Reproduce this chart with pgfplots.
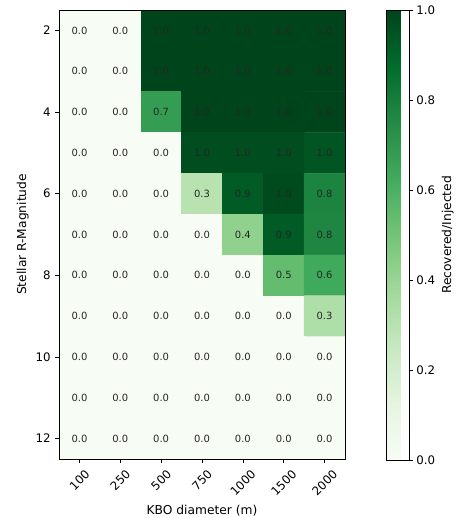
\documentclass[border=0pt]{standalone}
\usepackage{graphicx}
\usepackage{pgfplots}
\pgfplotsset{compat=1.18}
\usepackage{fontspec}
\setmainfont{DejaVu Sans}
\newcommand{\tl}{\fontsize{11.8}{14}\selectfont}
\newcommand{\lb}{\fontsize{12.3}{14}\selectfont}
\begin{document}
\begin{tikzpicture}
\path[use as bounding box] (-59bp,-59bp) rectangle (398bp,459bp);
\begin{axis}[
  at={(0,0)}, anchor=south west,
  scale only axis, width=286bp, height=449bp,
  axis on top,
  xmin=-0.5, xmax=6.5, ymin=1.5, ymax=12.5, y dir=reverse,
  xtick={0,...,6},
  xticklabels={\rotatebox{45}{100},\rotatebox{45}{250},\rotatebox{45}{500},\rotatebox{45}{750},\rotatebox{45}{1000},\rotatebox{45}{1500},\rotatebox{45}{2000}},
  xticklabel style={anchor=north, font=\tl, inner sep=1bp, yshift=-5bp},
  ytick={2,4,...,12},
  yticklabel style={font=\tl, xshift=-1bp},
  tick align=outside, tick pos=left, major tick length=3.9bp,
  every tick/.style={black, line width=0.6pt},
  axis line style={line width=0.6pt},
  xlabel={KBO diameter (m)}, ylabel={Stellar R-Magnitude},
  label style={font=\lb},
  xlabel style={yshift=-4bp},
  /pgf/number format/assume math mode=true,
  colormap={greens}{rgb255=(247,252,245) rgb255=(229,245,224) rgb255=(199,233,192) rgb255=(161,217,155) rgb255=(116,196,118) rgb255=(65,171,93) rgb255=(35,139,69) rgb255=(0,109,44) rgb255=(0,68,27)},
  point meta min=0, point meta max=1,
  colorbar,
  colorbar style={
    at={(parent axis.north east)}, anchor=north west, xshift=33bp,
    scale only axis, width=22.5bp, height=450bp,
    ytick={0,0.2,0.4,0.6,0.8,1.0},
    yticklabel style={font=\tl, /pgf/number format/fixed, /pgf/number format/precision=1, /pgf/number format/fixed zerofill, /pgf/number format/assume math mode=true},
    yticklabel pos=right, ytick pos=right, tick align=outside, major tick length=3.9bp,
    every tick/.style={black, line width=0.6pt},
    ylabel={Recovered/Injected},
    ylabel style={font=\lb, at={(rel axis cs:2.72,0.5)}, anchor=center},
    axis line style={line width=0.6pt},
  },
]
\addplot[matrix plot*, mesh/cols=7, point meta=explicit,
  draw=mapped color, line width=0.3pt,
  visualization depends on={value \thisrow{l}\as\lab},
  nodes near coords={\lab},
  every node near coord/.append style={anchor=center, font=\fontsize{10}{12}\selectfont, text=black!85, draw=none}]
table[meta=c] {
x y c l
0 2 0 0.0
1 2 0 0.0
2 2 1 1.0
3 2 1 1.0
4 2 1 1.0
5 2 1 1.0
6 2 1 1.0
0 3 0 0.0
1 3 0 0.0
2 3 1 1.0
3 3 1 1.0
4 3 1 1.0
5 3 1 1.0
6 3 1 1.0
0 4 0 0.0
1 4 0 0.0
2 4 0.68 0.7
3 4 1 1.0
4 4 1 1.0
5 4 1 1.0
6 4 1 1.0
0 5 0 0.0
1 5 0 0.0
2 5 0 0.0
3 5 0.97 1.0
4 5 0.97 1.0
5 5 0.97 1.0
6 5 0.95 1.0
0 6 0 0.0
1 6 0 0.0
2 6 0 0.0
3 6 0.30 0.3
4 6 0.93 0.9
5 6 0.98 1.0
6 6 0.78 0.8
0 7 0 0.0
1 7 0 0.0
2 7 0 0.0
3 7 0 0.0
4 7 0.42 0.4
5 7 0.93 0.9
6 7 0.77 0.8
0 8 0 0.0
1 8 0 0.0
2 8 0 0.0
3 8 0 0.0
4 8 0 0.0
5 8 0.54 0.5
6 8 0.63 0.6
0 9 0 0.0
1 9 0 0.0
2 9 0 0.0
3 9 0 0.0
4 9 0 0.0
5 9 0 0.0
6 9 0.33 0.3
0 10 0 0.0
1 10 0 0.0
2 10 0 0.0
3 10 0 0.0
4 10 0 0.0
5 10 0 0.0
6 10 0 0.0
0 11 0 0.0
1 11 0 0.0
2 11 0 0.0
3 11 0 0.0
4 11 0 0.0
5 11 0 0.0
6 11 0 0.0
0 12 0 0.0
1 12 0 0.0
2 12 0 0.0
3 12 0 0.0
4 12 0 0.0
5 12 0 0.0
6 12 0 0.0
};
\end{axis}
\end{tikzpicture}
\end{document}
